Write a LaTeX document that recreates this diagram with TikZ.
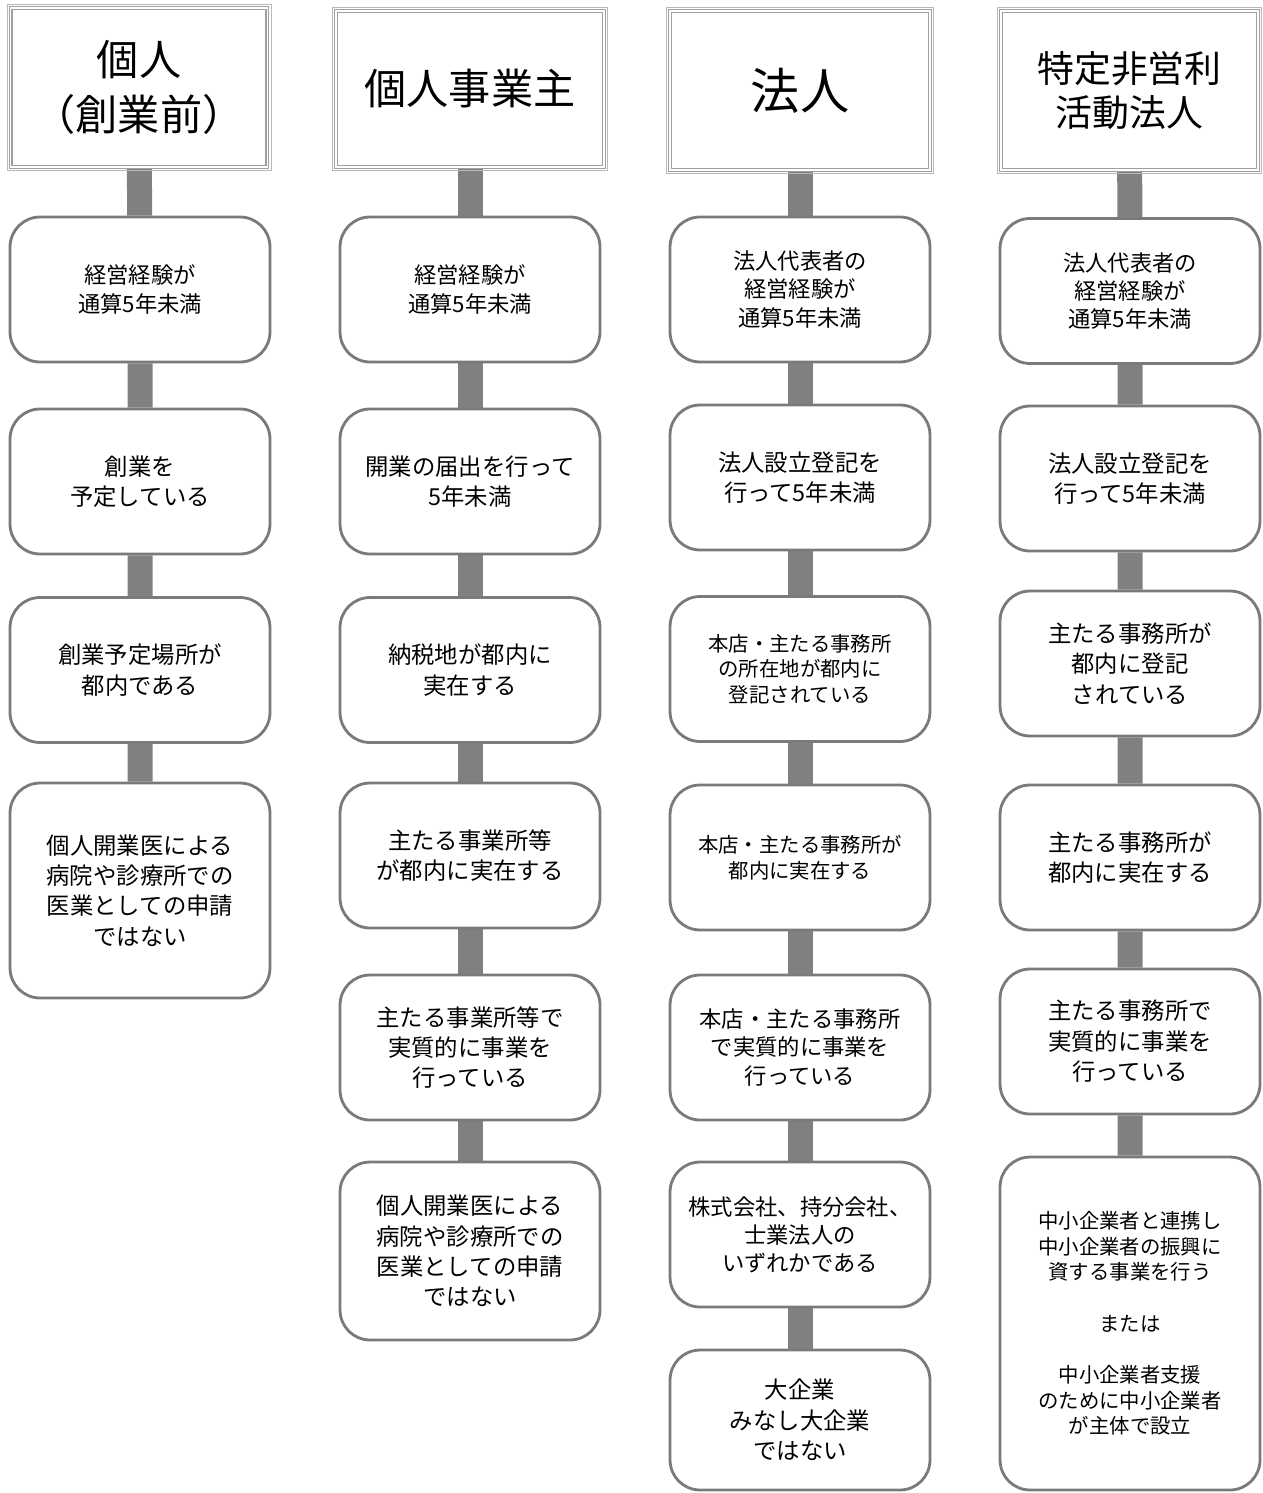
\documentclass[tikz,border=0pt]{standalone}
\usepackage{fontspec}
\setmainfont{Noto Sans CJK JP}
\usepackage{tikz}
\usetikzlibrary{backgrounds}

\begin{document}
\begin{tikzpicture}[x=0.02cm,y=-0.02cm]
  \tikzset{headbox/.style={rectangle,draw=gray!75,double=white,double distance=1.1pt,line width=0.6pt,fill=white,
      minimum width=5.14cm,minimum height=3.18cm,align=center,inner sep=2pt}}
  \tikzset{headframe/.style={draw=gray!55,line width=0.5pt}}
  \tikzset{condbox/.style={rectangle,rounded corners=0.6cm,draw=black!52,line width=1.6pt,fill=white,
      minimum width=5.2cm,minimum height=2.9cm,align=center,inner sep=2pt}}
  \tikzset{fontL/.style={font=\fontsize{13.3pt}{17.3pt}\selectfont}}
  \tikzset{fontM/.style={font=\fontsize{12.7pt}{16pt}\selectfont}}
  \tikzset{fontS/.style={font=\fontsize{11.6pt}{14.6pt}\selectfont}}
  \tikzset{stem/.style={draw=black!50,line width=0.5cm}}

  \useasboundingbox (0,0) rectangle (1263,1493);

  % headers
  \node[headbox,font=\fontsize{24pt}{31pt}\selectfont] (h1) at (139,87.5) {個人\\（創業前）};
  \node[headbox,minimum width=5.36cm,minimum height=3.12cm,font=\fontsize{24pt}{31pt}\selectfont] (h2) at (470,89) {個人事業主};
  \node[headbox,minimum width=5.2cm,font=\fontsize{28pt}{34pt}\selectfont] (h3) at (800,90.5) {法人};
  \node[headbox,font=\fontsize{21pt}{25.5pt}\selectfont] (h4) at (1129.5,90.5) {特定非営利\\活動法人};
  \foreach \h in {h1,h2,h3,h4}
    \draw[headframe] ([shift={(-3,-3)}]\h.north west) rectangle ([shift={(3,3)}]\h.south east);

  % 個人（創業前）
  \node[condbox,fontM] (p1) at (140,289.5) {経営経験が\\通算5年未満};
  \node[condbox,fontL] (p2) at (140,481.5) {創業を\\予定している};
  \node[condbox,fontL] (p3) at (140,670) {創業予定場所が\\都内である};
  \node[condbox,fontL,minimum height=4.3cm] (p4) at (140,890.5) {個人開業医による\\病院や診療所での\\医業としての申請\\ではない};

  % 個人事業主
  \node[condbox,fontM] (s1) at (470,289.5) {経営経験が\\通算5年未満};
  \node[condbox,fontL] (s2) at (470,481.5) {開業の届出を行って\\5年未満};
  \node[condbox,fontL] (s3) at (470,670) {納税地が都内に\\実在する};
  \node[condbox,fontL] (s4) at (470,855.5) {主たる事業所等\\が都内に実在する};
  \node[condbox,fontL] (s5) at (470,1047.5) {主たる事業所等で\\実質的に事業を\\行っている};
  \node[condbox,fontL,minimum height=3.56cm] (s6) at (470,1251) {個人開業医による\\病院や診療所での\\医業としての申請\\ではない};

  % 法人
  \node[condbox,fontM] (c1) at (800,289.5) {法人代表者の\\経営経験が\\通算5年未満};
  \node[condbox,fontL] (c2) at (800,477.5) {法人設立登記を\\行って5年未満};
  \node[condbox,fontS] (c3) at (800,669) {本店・主たる事務所\\の所在地が都内に\\登記されている};
  \node[condbox,fontS] (c4) at (800,857.5) {本店・主たる事務所が\\都内に実在する};
  \node[condbox,fontM] (c5) at (800,1047.5) {本店・主たる事務所\\で実質的に事業を\\行っている};
  \node[condbox,fontM] (c6) at (800,1234.5) {株式会社、持分会社、\\士業法人の\\いずれかである};
  \node[condbox,fontL,minimum height=2.8cm] (c7) at (800,1420) {大企業\\みなし大企業\\ではない};

  % 特定非営利活動法人
  \node[condbox,fontM] (n1) at (1130,291) {法人代表者の\\経営経験が\\通算5年未満};
  \node[condbox,fontL] (n2) at (1130,478.5) {法人設立登記を\\行って5年未満};
  \node[condbox,fontL] (n3) at (1130,663.5) {主たる事務所が\\都内に登記\\されている};
  \node[condbox,fontL] (n4) at (1130,857.5) {主たる事務所が\\都内に実在する};
  \node[condbox,fontL] (n5) at (1130,1041.5) {主たる事務所で\\実質的に事業を\\行っている};
  \node[condbox,fontS,minimum height=6.66cm] (n6) at (1130,1323.5) {中小企業者と連携し\\中小企業者の振興に\\資する事業を行う\\[14.6pt]または\\[14.6pt]中小企業者支援\\のために中小企業者\\が主体で設立};

  \begin{scope}[on background layer]
    \draw[stem] (h1) -- (p1) -- (p2) -- (p3) -- (p4);
    \draw[stem] (h2) -- (s1) -- (s2) -- (s3) -- (s4) -- (s5) -- (s6);
    \draw[stem] (h3) -- (c1) -- (c2) -- (c3) -- (c4) -- (c5) -- (c6) -- (c7);
    \draw[stem] (h4) -- (n1) -- (n2) -- (n3) -- (n4) -- (n5) -- (n6);
  \end{scope}
\end{tikzpicture}
\end{document}
